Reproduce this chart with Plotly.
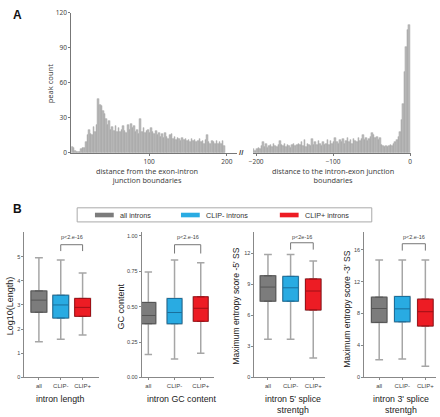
import plotly.graph_objects as go

W, H = 440, 417
def X(px): return px / W
def Y(py): return 1 - py / H

FONT = "Liberation Sans, Arial, sans-serif"

# ---------------- Panel A data (2-nt bins) ----------------
left_centers = list(range(1, 199, 2))
left_counts = [5, 4, 2, 1, 1, 0.5, 3, 4, 4, 9, 15, 20, 16, 15, 22, 18, 24, 46, 41, 40,
               36, 33, 29, 24, 27, 20, 22, 19, 23, 18, 21, 18, 20, 23, 19, 17, 24, 20, 25, 21,
               23, 18, 20, 16, 29, 18, 21, 17, 19, 20, 17, 21, 18, 16, 19, 15, 17, 14, 16, 13,
               17, 14, 12, 15, 16, 12, 14, 11, 13, 12, 10, 13, 11, 12, 10, 11, 9, 12, 10, 11,
               9, 10, 12, 9, 10, 8, 11, 15, 9, 8, 10, 9, 8, 10, 8, 9, 8, 10, 6]
right_centers = list(range(-203, 0, 2))
right_counts = [3, 2, 3, 4, 3, 6, 9, 5, 8, 4, 6, 7, 5, 8, 6, 5, 7, 10, 7, 6,
                8, 5, 7, 6, 4, 7, 8, 6, 7, 8, 7, 9, 6, 11, 5, 8, 7, 6, 12, 7,
                9, 7, 10, 8, 6, 9, 7, 8, 11, 7, 10, 8, 9, 13, 9, 8, 11, 9, 12, 8,
                10, 13, 9, 11, 8, 12, 10, 9, 13, 10, 12, 15, 11, 13, 10, 12, 14, 17, 15, 13,
                14, 11, 13, 7, 6, 5, 6, 5, 6, 7, 6, 8, 9, 11, 14, 18, 28, 42, 69, 91,
                105, 110]

hist_yticks = [0, 30, 60, 90, 120]

# ---------------- Panel B data ----------------
groups = ["all", "CLIP-", "CLIP+"]
legend_names = ["all introns", "CLIP- introns", "CLIP+ introns"]
fills = ["#7c7c7c", "#29abe2", "#ed1c24"]
edges = ["#555555", "#1a6f9c", "#9e1016"]

length_stats = dict(low=[1.48, 1.58, 1.76], q1=[2.70, 2.46, 2.53], med=[3.20, 3.00, 2.90],
                    q3=[3.58, 3.40, 3.27], high=[4.95, 4.86, 4.32])
gc_stats = dict(low=[0.162, 0.131, 0.171], q1=[0.380, 0.380, 0.397], med=[0.438, 0.459, 0.489],
                q3=[0.530, 0.558, 0.570], high=[0.746, 0.830, 0.810])
ss5_stats = dict(low=[3.68, 3.68, 1.89], q1=[7.36, 7.36, 6.51], med=[8.72, 8.65, 8.34],
                 q3=[9.81, 9.75, 9.50], high=[11.86, 11.86, 11.23])
ss3_stats = dict(low=[2.23, 2.31, 1.42], q1=[6.89, 6.97, 6.44], med=[8.63, 8.59, 8.23],
                 q3=[10.05, 10.13, 9.80], high=[14.7, 14.7, 14.7])

fig = go.Figure()

# histogram bars
fig.add_trace(go.Bar(x=left_centers, y=left_counts, width=2, xaxis="x", yaxis="y",
                     marker=dict(color="#bdbdbd", line=dict(color="#9a9a9a", width=0.4)),
                     showlegend=False, hoverinfo="x+y"))
fig.add_trace(go.Bar(x=right_centers, y=right_counts, width=2, xaxis="x2", yaxis="y2",
                     marker=dict(color="#bdbdbd", line=dict(color="#9a9a9a", width=0.4)),
                     showlegend=False, hoverinfo="x+y"))

# box panels: (stats, y-axis px, x-end px, first-centre px, spacing px, y-top value, tickvals, ticktext, box px)
panels = [
    (length_stats, 20.7, 96.0, 35.3, 22.1, 6.03, [0, 1, 2, 3, 4, 5], None, 16),
    (gc_stats, 139.3, 212.0, 146.0, 26.5, 1.03, [0, 0.25, 0.5, 0.75, 1.0],
     ["0.00", "0.25", "0.50", "0.75", "1.00"], 15),
    (ss5_stats, 253.3, 325.0, 267.0, 22.9, 14.06, [0, 3, 6, 9, 12], None, 15.7),
    (ss3_stats, 364.3, 437.0, 379.5, 23.35, 18.24, [0, 4, 8, 12, 16], None, 15.7),
]

layout_axes = {}
for i, (st, yl, xe, c0, sp, ytop, tv, tt, bw) in enumerate(panels):
    n = i + 3
    xa, ya = f"x{n}", f"y{n}"
    w = bw / sp
    for g in range(3):
        # whiskers
        fig.add_trace(go.Box(x=[groups[g]], q1=[st["q1"][g]], median=[st["med"][g]],
                             q3=[st["q3"][g]], lowerfence=[st["low"][g]], upperfence=[st["high"][g]],
                             xaxis=xa, yaxis=ya, width=w, fillcolor=fills[g],
                             line=dict(color="#a6a6a6", width=1.5), showlegend=False,
                             hoverinfo="skip"))
        # box
        fig.add_trace(go.Box(x=[groups[g]], q1=[st["q1"][g]], median=[st["med"][g]],
                             q3=[st["q3"][g]], lowerfence=[st["q1"][g]], upperfence=[st["q3"][g]],
                             xaxis=xa, yaxis=ya, width=w, fillcolor=fills[g],
                             line=dict(color=edges[g], width=1), showlegend=False,
                             name=legend_names[g]))
    r0 = (yl - c0) / sp
    r1 = (xe - c0) / sp
    layout_axes[f"xaxis{n}"] = dict(domain=[X(yl), X(xe)], range=[r0, r1], anchor=ya,
                                    type="category", categoryorder="array", categoryarray=groups,
                                    showline=True, linecolor="#888", linewidth=1, ticks="outside",
                                    ticklen=2, tickcolor="#888", showgrid=False, zeroline=False,
                                    tickfont=dict(size=6, color="#444", family=FONT))
    layout_axes[f"yaxis{n}"] = dict(domain=[Y(380.7), Y(231.7)], range=[0, ytop], anchor=xa,
                                    tickvals=tv, ticktext=tt, showline=True, linecolor="#888",
                                    linewidth=1, ticks="outside", ticklen=2, tickcolor="#888",
                                    showgrid=False, zeroline=False,
                                    tickfont=dict(size=5.5, color="#444", family=FONT))

annotations = []
shapes = []

def ann(text, px, py, size, xanchor="center", yanchor="middle", angle=0, color="#333",
        bold=False, family=FONT):
    annotations.append(dict(text=f"<b>{text}</b>" if bold else text, x=X(px), y=Y(py),
                            xref="paper", yref="paper", xanchor=xanchor, yanchor=yanchor,
                            textangle=angle, showarrow=False,
                            font=dict(size=size, color=color, family=family)))

# panel labels
ann("A", 7, 10, 12, xanchor="left", bold=True, color="#111", family="Liberation Sans, Arial")
ann("B", 7, 209, 12, xanchor="left", bold=True, color="#111", family="Liberation Sans, Arial")

# histogram titles
ann("peak count", 46.5, 80, 7.5, angle=-90, color="#444", family="Noto Sans, Open Sans")
ann("distance from the exon-intron<br>junction boundaries", 144.5, 174, 7.3, color="#444",
    family="Noto Sans, Open Sans")
ann("distance to the intron-exon junction<br>boundaries", 333, 174, 7.3, color="#444",
    family="Noto Sans, Open Sans")
ann("//", 240, 151, 8, color="#444", bold=True)

# legend
shapes.append(dict(type="rect", xref="paper", yref="paper", x0=X(74), x1=X(372), y0=Y(221.7),
                   y1=Y(207.3), line=dict(color="#aaaaaa", width=1), fillcolor="white"))
leg_x = [92, 179, 279]
for g in range(3):
    shapes.append(dict(type="rect", xref="paper", yref="paper", x0=X(leg_x[g]), x1=X(leg_x[g] + 19),
                       y0=Y(217), y1=Y(212.3), line=dict(width=0), fillcolor=fills[g]))
    ann(legend_names[g], leg_x[g] + 23, 214.8, 7.2, xanchor="left", color="#333")

# box panel titles
ann("Log10(Length)", 6, 307, 9, angle=-90, color="#222")
ann("GC content", 118.5, 308, 9, angle=-90, color="#222")
ann("Maximum entropy score -5' SS", 235, 308, 8.6, angle=-90, color="#222")
ann("Maximum entropy score -3' SS", 347.5, 311, 8.6, angle=-90, color="#222")
ann("intron length", 57, 403, 8.8, color="#222")
ann("intron GC content", 180, 403, 8.8, color="#222")
ann("intron 5' splice<br>strentgh", 292.7, 408.5, 8.8, color="#222")
ann("intron 3' splice<br>strentgh", 401.7, 408.5, 8.8, color="#222")

# significance brackets
pvals = ["p<2.e-16", "p<2.e-16", "p<2e-16", "p<2.e-16"]
br_top = [245, 245, 243, 244]
br_leg = [251.5, 254, 250, 251]
for i in range(4):
    n = i + 3
    shapes.append(dict(type="path", xref=f"x{n}", yref="paper",
                       path=f"M 1,{Y(br_leg[i])} L 1,{Y(br_top[i])} L 2,{Y(br_top[i])} L 2,{Y(br_leg[i])}",
                       line=dict(color="#777", width=1)))
    annotations.append(dict(text=pvals[i], x=1.5, y=Y(237), xref=f"x{n}", yref="paper",
                            showarrow=False, xanchor="center", yanchor="middle",
                            font=dict(size=5.5, color="#444", family=FONT)))

hist_axis = dict(showline=True, linecolor="#777", linewidth=1, ticks="outside", ticklen=2,
                 tickcolor="#777", showgrid=False, zeroline=False,
                 tickfont=dict(size=6.5, color="#444", family="Noto Sans, Open Sans"))

fig.update_layout(
    width=W, height=H, margin=dict(l=0, r=0, t=0, b=0),
    paper_bgcolor="white", plot_bgcolor="white",
    showlegend=False, barmode="overlay", bargap=0, boxmode="overlay",
    font=dict(family=FONT),
    xaxis=dict(domain=[X(68), X(236)], range=[0, 213.5], anchor="y", tickvals=[100, 200],
               **hist_axis),
    yaxis=dict(domain=[Y(151), Y(8)], range=[0, 120], anchor="x", tickvals=hist_yticks,
               **hist_axis),
    xaxis2=dict(domain=[X(252), X(412)], range=[-203.9, 1.7], anchor="y2",
                tickvals=[-200, -100, 0], **hist_axis),
    yaxis2=dict(domain=[Y(151), Y(8)], range=[0, 120], anchor="x2", visible=False),
    annotations=annotations, shapes=shapes,
    **layout_axes,
)

fig.write_html("out.html")
